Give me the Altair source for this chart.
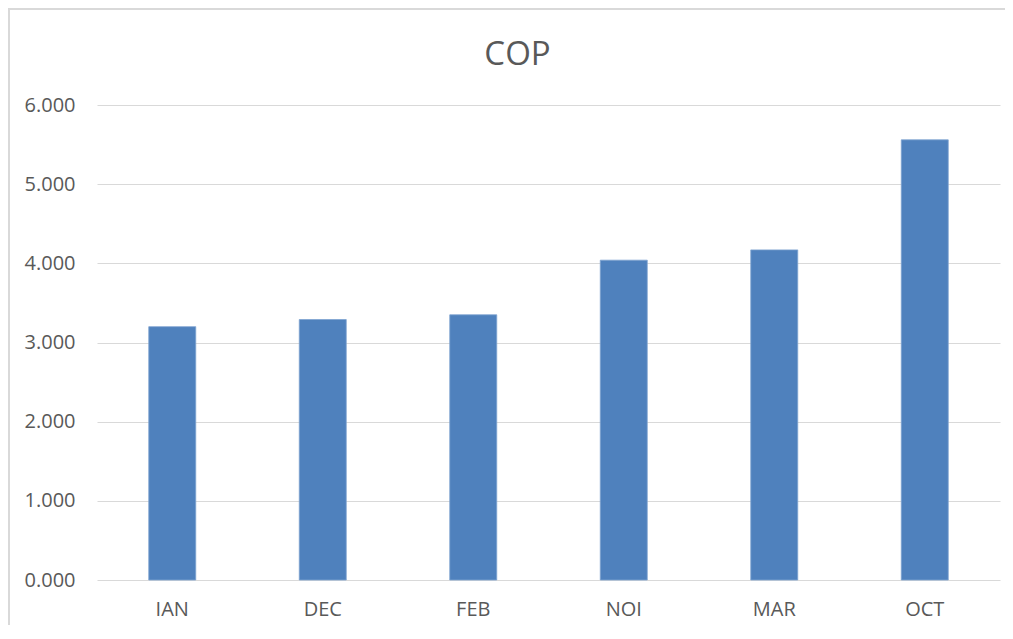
import altair as alt
import pandas as pd

months = ["IAN", "DEC", "FEB", "NOI", "MAR", "OCT"]
cop = [3.20, 3.29, 3.35, 4.04, 4.17, 5.56]

df = pd.DataFrame({"month": months, "cop": cop})

FONT = "Open Sans"
GREY = "#595959"

bars = alt.Chart(df).mark_bar(size=47, color="#4F81BD", stroke="#7FA3D0", strokeWidth=0.8).encode(
    x=alt.X("month:N", sort=months, title=None,
            scale=alt.Scale(paddingInner=0, paddingOuter=0),
            axis=alt.Axis(labelAngle=0, ticks=False, domain=False, labelPadding=19,
                          labelFontSize=20, labelColor=GREY, labelFont=FONT)),
    y=alt.Y("cop:Q", title=None,
            scale=alt.Scale(domain=[0, 6], nice=False),
            axis=alt.Axis(values=[0, 1, 2, 3, 4, 5, 6], format=".3f", ticks=False, domain=False,
                          labelPadding=22, labelFontSize=20, labelColor=GREY, labelFont=FONT,
                          gridColor="#D9D9D9", gridWidth=1.2)),
)

frame = alt.Chart(df).mark_rect(fill=None, stroke="#D9D9D9", strokeWidth=1.5, clip=False).encode(
    x=alt.value(-88), x2=alt.value(960), y=alt.value(-96), y2=alt.value(600)
)

chart = (frame + bars).properties(
    width=903, height=475,
    title=alt.Title("COP", fontSize=33, font=FONT, color=GREY, fontWeight="normal",
                    anchor="middle", offset=-64, dx=-31),
    autosize=alt.AutoSizeParams(type="none"),
    padding={"left": 89, "top": 97, "right": 5, "bottom": 45},
).configure_view(stroke=None)

chart.save("out.html", embed_options={"renderer": "svg", "actions": False})
